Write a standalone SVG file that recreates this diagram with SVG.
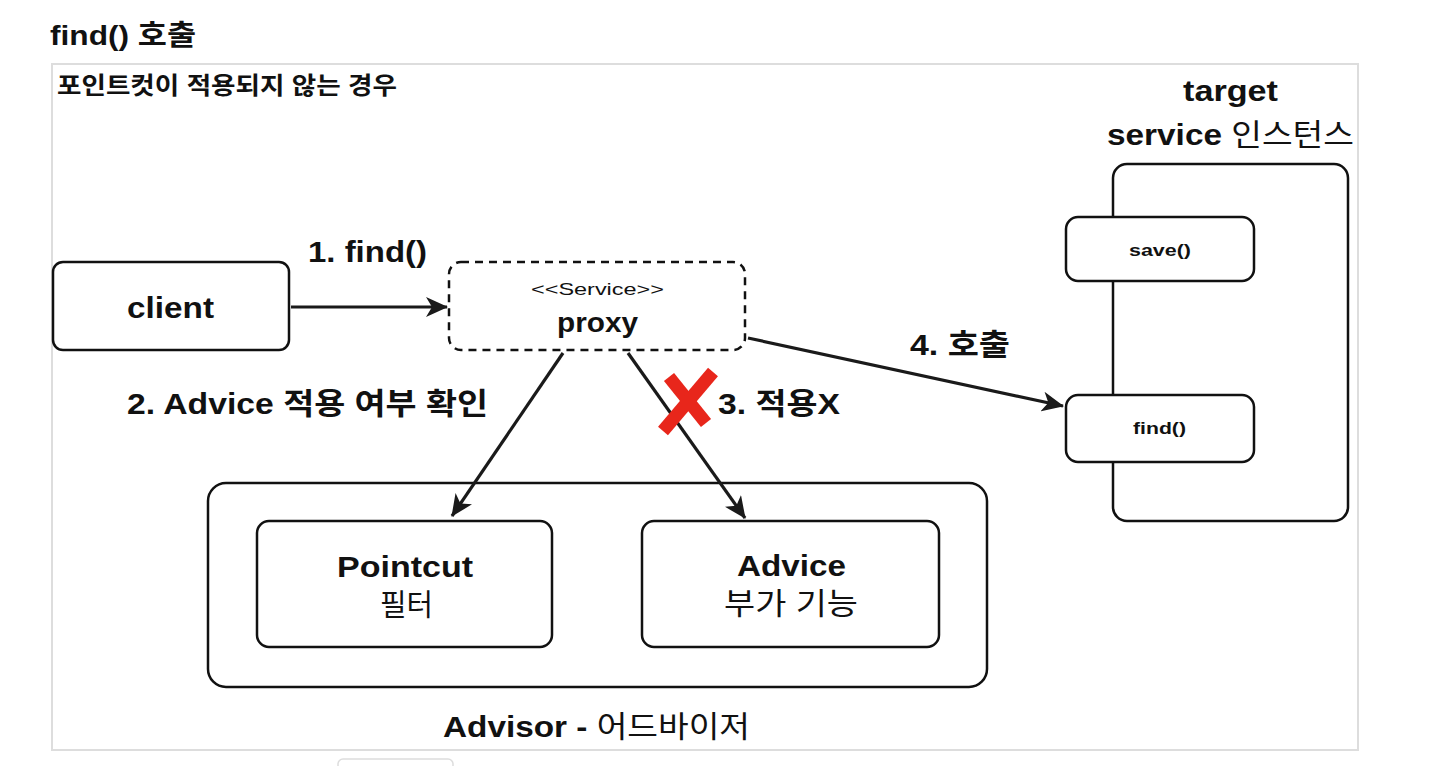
<svg xmlns="http://www.w3.org/2000/svg" width="1438" height="766" viewBox="0 0 1438 766">
<style>
text{font-family:"Liberation Sans","Noto Sans CJK KR",sans-serif;fill:#111;font-weight:bold}
.k{font-weight:normal}
.box{fill:#fff;stroke:#111;stroke-width:2.5}
.dash{fill:#fff;stroke:#111;stroke-width:2.5;stroke-dasharray:8 6}
.conn{fill:none;stroke:#1a1a1a;stroke-width:3.2;marker-end:url(#ah)}
.lbl{font-size:30px}
.big{font-size:30px}
.small{font-size:17px}
</style>
<defs>
<marker id="ah" viewBox="0 0 24 20" refX="21" refY="10" markerWidth="24" markerHeight="20" markerUnits="userSpaceOnUse" orient="auto">
<path d="M0,0 L22,10 L0,20 L6,10 Z" fill="#1a1a1a"/>
</marker>
</defs>
<rect width="1438" height="766" fill="#fff"/>
<text x="50" y="45" style="font-size:28px" textLength="146" lengthAdjust="spacingAndGlyphs">find() 호출</text>
<rect x="52" y="64" width="1306" height="686" fill="#fff" stroke="#ddd" stroke-width="2"/>
<rect x="338" y="759" width="115" height="20" rx="5" fill="#fff" stroke="#ddd" stroke-width="1.5"/>
<text x="57" y="94" style="font-size:24px" textLength="340" lengthAdjust="spacingAndGlyphs">포인트컷이 적용되지 않는 경우</text>

<g id="advisor">
<rect class="box" x="208" y="483" width="779" height="204" rx="18"/>
<text class="big" x="443" y="737" textLength="307" lengthAdjust="spacingAndGlyphs">Advisor - <tspan class="k">어드바이저</tspan></text>
</g>
<g id="pointcut">
<rect class="box" x="257" y="521" width="295" height="126" rx="12"/>
<text class="big" x="337" y="577" textLength="136" lengthAdjust="spacingAndGlyphs">Pointcut</text>
<text class="big k" x="380" y="615" textLength="53" lengthAdjust="spacingAndGlyphs">필터</text>
</g>
<g id="advice">
<rect class="box" x="642" y="521" width="297" height="126" rx="12"/>
<text class="big" x="737" y="576" textLength="109" lengthAdjust="spacingAndGlyphs">Advice</text>
<text class="big k" x="724" y="614" textLength="134" lengthAdjust="spacingAndGlyphs">부가 기능</text>
</g>
<g id="client">
<rect class="box" x="53" y="262" width="236" height="88" rx="10"/>
<text class="big" x="127" y="318" textLength="87" lengthAdjust="spacingAndGlyphs">client</text>
</g>
<g id="proxy">
<rect class="dash" x="449" y="262" width="296" height="88" rx="12"/>
<text class="small" x="531" y="295" style="font-weight:normal" textLength="133" lengthAdjust="spacingAndGlyphs">&lt;&lt;Service&gt;&gt;</text>
<text x="557" y="332" style="font-size:27px" textLength="81" lengthAdjust="spacingAndGlyphs">proxy</text>
</g>
<g id="target">
<text class="big" x="1183" y="101" textLength="95" lengthAdjust="spacingAndGlyphs">target</text>
<text class="big" x="1107" y="145" textLength="247" lengthAdjust="spacingAndGlyphs">service <tspan class="k">인스턴스</tspan></text>
<rect class="box" x="1113" y="164" width="235" height="357" rx="14"/>
</g>
<g id="save">
<rect class="box" x="1066" y="217" width="188" height="64" rx="12"/>
<text class="small" x="1129" y="256" textLength="62" lengthAdjust="spacingAndGlyphs">save()</text>
</g>
<g id="find">
<rect class="box" x="1066" y="395" width="188" height="67" rx="12"/>
<text class="small" x="1133" y="434" textLength="53" lengthAdjust="spacingAndGlyphs">find()</text>
</g>

<g id="connectors">
<line class="conn" x1="291" y1="307" x2="447" y2="307"/>
<line class="conn" x1="563" y1="353" x2="452" y2="516"/>
<line class="conn" x1="628" y1="353" x2="745" y2="518"/>
<line class="conn" x1="748" y1="338" x2="1063" y2="406"/>
</g>
<g id="labels">
<text class="lbl" x="308" y="262" textLength="119" lengthAdjust="spacingAndGlyphs">1. find()</text>
<text class="lbl" x="127" y="414" textLength="361" lengthAdjust="spacingAndGlyphs">2. Advice 적용 여부 확인</text>
<text class="lbl" x="718" y="414" textLength="122" lengthAdjust="spacingAndGlyphs">3. 적용X</text>
<text class="lbl" x="910" y="355" textLength="100" lengthAdjust="spacingAndGlyphs">4. 호출</text>
</g>
<g id="cross" stroke="#e8261b" stroke-width="13" stroke-linecap="butt">
<line x1="669" y1="377" x2="706" y2="423"/>
<line x1="713" y1="372" x2="663" y2="431"/>
</g>
</svg>
